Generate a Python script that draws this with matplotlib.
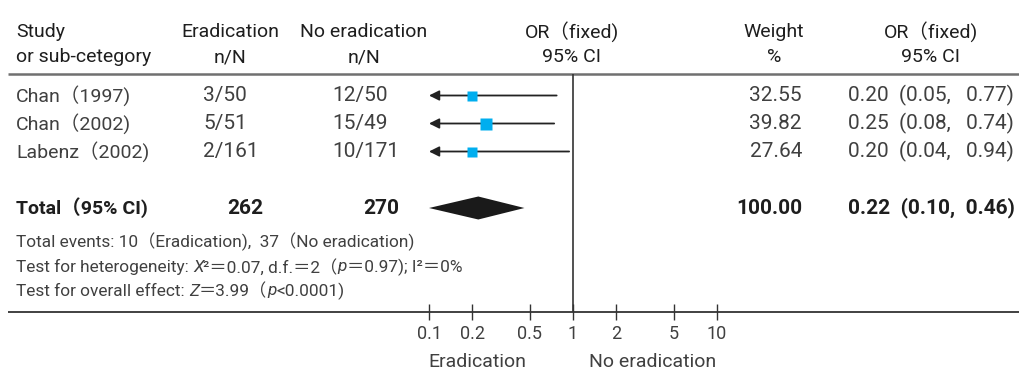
import matplotlib
matplotlib.use('Agg')
import matplotlib.pyplot as plt
from matplotlib.patches import Polygon
import numpy as np

# ---------------- data ----------------
studies = ['Chan（1997)', 'Chan（2002)', 'Labenz（2002)']
erad_nN = ['3/50', '5/51', '2/161']
noerad_nN = ['12/50', '15/49', '10/171']
weights = [32.55, 39.82, 27.64]
or_est = [0.20, 0.25, 0.20]
ci_lo = [0.05, 0.08, 0.04]
ci_hi = [0.77, 0.74, 0.94]
total_label = 'Total（95% CI)'
total_erad = 262
total_noerad = 270
total_weight = 100.00
total_or, total_lo, total_hi = 0.22, 0.10, 0.46
events_erad, events_noerad = 10, 37
chi2, df, p_het, i2 = 0.07, 2, 0.97, 0
z_val, p_overall = 3.99, '<0.0001'
ticks = [0.1, 0.2, 0.5, 1, 2, 5, 10]
tick_labels = ['0.1', '0.2', '0.5', '1', '2', '5', '10']
axis_min = 0.1
left_label = 'Eradication'
right_label = 'No eradication'

# ---------------- fonts ----------------
FAM = ['Roboto', 'Noto Sans CJK JP', 'DejaVu Sans']
plt.rcParams['font.family'] = FAM
FS = 14.0
FS_NUM = 15.0
FS_SMALL = 12.4
FS_TICK = 13.0
TXT = '#404040'
HDR = '#1e1e1e'

# ---------------- layout ----------------
W, H = 1019, 372
fig = plt.figure(figsize=(W / 100, H / 100), dpi=100)
ax0 = fig.add_axes([0, 0, 1, 1])
ax0.set_xlim(0, W)
ax0.set_ylim(H, 0)
ax0.axis('off')

hy1, hy2 = 32, 57
ax0.text(16, hy1, 'Study', ha='left', va='center', fontsize=FS, color=HDR)
ax0.text(16, hy2, 'or sub-cetegory', ha='left', va='center', fontsize=FS, color=HDR)
for cx, a, b in [(230, 'Eradication', 'n/N'), (364, 'No eradication', 'n/N'),
                 (572, 'OR（fixed)', '95% CI'), (774, 'Weight', '%'),
                 (931, 'OR（fixed)', '95% CI')]:
    ax0.text(cx, hy1, a, ha='center', va='center', fontsize=FS, color=HDR)
    ax0.text(cx, hy2, b, ha='center', va='center', fontsize=FS, color=HDR)

ax0.plot([8, W], [74, 74], color='#707070', lw=1.8, solid_capstyle='butt')
ax0.plot([8, W], [311.5, 311.5], color='#333333', lw=1.3, solid_capstyle='butt')

row_y = [95.5, 123.5, 151.5]
total_y = 208

for i, y in enumerate(row_y):
    ax0.text(16, y, studies[i], ha='left', va='center', fontsize=FS, color=TXT)
    ax0.text(203, y, erad_nN[i], ha='left', va='center', fontsize=FS_NUM, color=TXT)
    ax0.text(332, y, noerad_nN[i], ha='left', va='center', fontsize=FS_NUM, color=TXT)
    ax0.text(802, y, f'{weights[i]:.2f}', ha='right', va='center', fontsize=FS_NUM, color=TXT)
    ax0.text(848, y, f'{or_est[i]:.2f}  ({ci_lo[i]:.2f},   {ci_hi[i]:.2f})',
             ha='left', va='center', fontsize=FS_NUM, color=TXT)

bold = dict(ha='left', va='center', fontsize=FS_NUM, color=HDR, fontweight='bold')
ax0.text(16, total_y, total_label, **{**bold, 'fontsize': FS})
ax0.text(227, total_y, str(total_erad), **bold)
ax0.text(363, total_y, str(total_noerad), **bold)
ax0.text(802, total_y, f'{total_weight:.2f}', **{**bold, 'ha': 'right'})
ax0.text(848, total_y, f'{total_or:.2f}  ({total_lo:.2f},  {total_hi:.2f})', **bold)

renderer = fig.canvas.get_renderer()


def runs(x, y, parts):
    for s, st in parts:
        t = ax0.text(x, y, s, ha='left', va='center', fontsize=FS_SMALL, color=TXT,
                     style=st)
        bb = t.get_window_extent(renderer)
        x += bb.width


runs(16, 242, [(f'Total events: {events_erad}（Eradication),  {events_noerad}（No eradication)', 'normal')])
runs(16, 267, [('Test for heterogeneity: ', 'normal'), ('X', 'italic'),
               (f'²＝{chi2:.2f}, d.f.＝{df}（', 'normal'), ('p', 'italic'),
               (f'＝{p_het:.2f}); I²＝{i2}%', 'normal')])
runs(16, 291, [('Test for overall effect: ', 'normal'), ('Z', 'italic'),
               (f'＝{z_val:.2f}（', 'normal'), ('p', 'italic'), (f'{p_overall})', 'normal')])

# ---------------- forest axes ----------------
px_per_dec = 144.0
x_one = 573.0
fx0, fx1 = 400.0, 760.0
fy0, fy1 = 74.0, 311.5
axf = fig.add_axes([fx0 / W, 1 - fy1 / H, (fx1 - fx0) / W, (fy1 - fy0) / H])
axf.set_xscale('log')
axf.set_xlim(10 ** ((fx0 - x_one) / px_per_dec), 10 ** ((fx1 - x_one) / px_per_dec))
axf.set_ylim(fy1, fy0)
axf.patch.set_alpha(0)
for s in axf.spines.values():
    s.set_visible(False)
axf.set_yticks([])
axf.set_xticks(ticks)
axf.set_xticklabels(tick_labels)
axf.xaxis.set_minor_locator(matplotlib.ticker.NullLocator())
axf.tick_params(axis='x', direction='inout', length=11, width=1.0, color='#333333',
                labelsize=FS_TICK, labelcolor=TXT, pad=4)

axf.axvline(1, color='#333333', lw=1.2)

for i, y in enumerate(row_y):
    lo = max(ci_lo[i], axis_min)
    if ci_lo[i] < axis_min:
        axf.annotate('', xy=(lo, y), xytext=(ci_hi[i], y),
                     arrowprops=dict(arrowstyle='-|>,head_length=0.6,head_width=0.3',
                                     color='#222222', lw=1.3, shrinkA=0, shrinkB=0))
    else:
        axf.plot([lo, ci_hi[i]], [y, y], color='#222222', lw=1.3)
    side = 1.8 * np.sqrt(weights[i]) * 0.72
    axf.plot([or_est[i]], [y], marker='s', ms=side, color='#00aeef', mec='none', zorder=5)

h = 11.5
diamond = Polygon([(total_lo, total_y), (total_or, total_y - h), (total_hi, total_y),
                   (total_or, total_y + h)], closed=True, facecolor='#1a1a1a', edgecolor='none')
axf.add_patch(diamond)

ax0.text(477, 362, left_label, ha='center', va='center', fontsize=FS, color=TXT)
ax0.text(653, 362, right_label, ha='center', va='center', fontsize=FS, color=TXT)

fig.savefig('out.png', dpi=100)
